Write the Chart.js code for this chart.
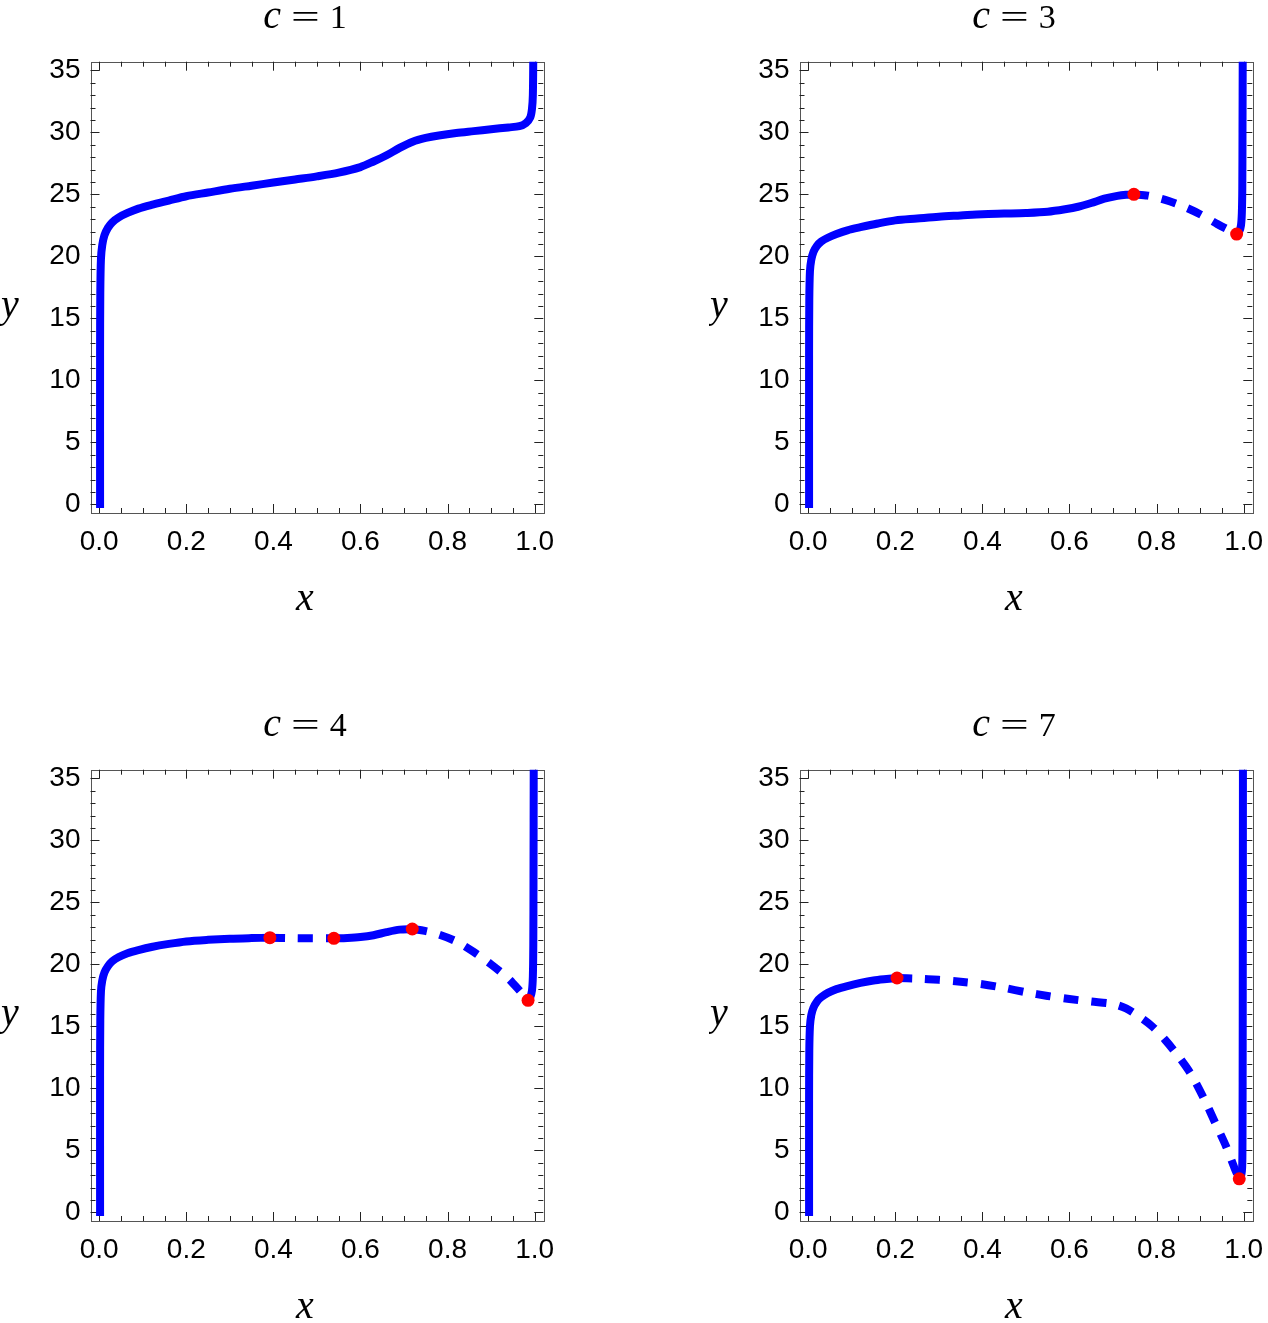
<!DOCTYPE html>
<html>
<head>
<meta charset="utf-8">
<script src="https://cdn.jsdelivr.net/npm/chart.js@4.4.1/dist/chart.umd.min.js"></script>
<style>
  html, body { margin: 0; padding: 0; background: #fff; }
  #wrap { position: relative; width: 1268px; height: 1323px; }
  canvas { position: absolute; }
</style>
</head>
<body>
<div id="wrap">
  <canvas id="p1" width="559" height="615" style="left:0;top:0"></canvas>
  <canvas id="p2" width="559" height="615" style="left:709px;top:0"></canvas>
  <canvas id="p3" width="559" height="615" style="left:0;top:708px"></canvas>
  <canvas id="p4" width="559" height="615" style="left:709px;top:708px"></canvas>
</div>
<script>
// ---------------------
// data
// ---------------------
var cValues = [1, 3, 4, 7];
var xTickValues = [0, 0.2, 0.4, 0.6, 0.8, 1.0];
var xTickLabels = ['0.0', '0.2', '0.4', '0.6', '0.8', '1.0'];
var yTickValues = [0, 5, 10, 15, 20, 25, 30, 35];

// c = 1
var c1X = [0.002, 0.002, 0.0025, 0.004, 0.007, 0.012, 0.02, 0.03, 0.045, 0.065, 0.09, 0.12, 0.16, 0.2, 0.25, 0.3, 0.35, 0.4, 0.45, 0.5, 0.55, 0.6, 0.63, 0.66, 0.69, 0.72, 0.75, 0.78, 0.82, 0.86, 0.9, 0.94, 0.965, 0.98, 0.99, 0.994, 0.996, 0.997];
var c1Y = [-0.3, 12, 17, 19.8, 20.9, 21.7, 22.3, 22.75, 23.15, 23.5, 23.85, 24.15, 24.5, 24.85, 25.15, 25.45, 25.7, 25.95, 26.2, 26.45, 26.75, 27.2, 27.65, 28.15, 28.75, 29.25, 29.55, 29.75, 29.95, 30.1, 30.25, 30.4, 30.5, 30.75, 31.2, 31.9, 33, 36];

// c = 3
var c3SolidAX = [0.002, 0.002, 0.0025, 0.004, 0.007, 0.012, 0.02, 0.03, 0.045, 0.065, 0.09, 0.12, 0.16, 0.2, 0.25, 0.3, 0.35, 0.4, 0.45, 0.5, 0.55, 0.59, 0.62, 0.65, 0.68, 0.71, 0.73, 0.748];
var c3SolidAY = [-0.3, 12, 16.5, 18.8, 19.7, 20.35, 20.85, 21.2, 21.5, 21.8, 22.1, 22.35, 22.65, 22.9, 23.05, 23.2, 23.3, 23.4, 23.45, 23.5, 23.6, 23.8, 24.0, 24.3, 24.65, 24.88, 24.97, 25.0];
var c3DashX = [0.748, 0.78, 0.82, 0.86, 0.9, 0.94, 0.984];
var c3DashY = [25.0, 24.9, 24.55, 24.05, 23.4, 22.6, 21.8];
var c3SolidBX = [0.984, 0.99, 0.994, 0.996, 0.997, 0.9975, 0.998];
var c3SolidBY = [21.8, 22.0, 22.5, 23.5, 25.5, 30, 36];
var c3DotX = [0.748, 0.984];
var c3DotY = [25.0, 21.8];

// c = 4
var c4SolidAX = [0.002, 0.002, 0.0025, 0.004, 0.007, 0.012, 0.02, 0.03, 0.045, 0.065, 0.09, 0.12, 0.16, 0.2, 0.25, 0.3, 0.35, 0.392];
var c4SolidAY = [-0.3, 11, 15.5, 17.8, 18.7, 19.35, 19.85, 20.25, 20.6, 20.9, 21.15, 21.4, 21.65, 21.85, 21.98, 22.07, 22.12, 22.15];
var c4DashAX = [0.392, 0.44, 0.49, 0.539];
var c4DashAY = [22.15, 22.12, 22.1, 22.1];
var c4SolidBX = [0.539, 0.57, 0.6, 0.63, 0.66, 0.69, 0.719];
var c4SolidBY = [22.1, 22.13, 22.2, 22.35, 22.6, 22.8, 22.85];
var c4DashBX = [0.719, 0.748, 0.78, 0.82, 0.86, 0.9, 0.94, 0.965, 0.985];
var c4DashBY = [22.85, 22.7, 22.4, 21.85, 21.0, 20.0, 18.85, 17.9, 17.1];
var c4SolidCX = [0.985, 0.99, 0.994, 0.996, 0.997, 0.9975, 0.998];
var c4SolidCY = [17.1, 17.35, 17.9, 19, 21.5, 27, 36];
var c4DotX = [0.392, 0.539, 0.719, 0.985];
var c4DotY = [22.15, 22.1, 22.85, 17.1];

// c = 7
var c7SolidAX = [0.002, 0.002, 0.0025, 0.004, 0.007, 0.012, 0.02, 0.03, 0.045, 0.065, 0.09, 0.12, 0.15, 0.18, 0.204];
var c7SolidAY = [-0.3, 9, 13, 15.0, 15.9, 16.5, 17.0, 17.35, 17.7, 18.0, 18.25, 18.5, 18.7, 18.82, 18.9];
var c7DashX = [0.204, 0.25, 0.3, 0.35, 0.4, 0.45, 0.5, 0.55, 0.6, 0.65, 0.7, 0.73, 0.76, 0.79, 0.82, 0.85, 0.88, 0.91, 0.935, 0.96, 0.98, 0.99];
var c7DashY = [18.9, 18.85, 18.75, 18.6, 18.4, 18.1, 17.75, 17.45, 17.2, 17.0, 16.8, 16.45, 15.8, 15.0, 13.9, 12.6, 11.1, 9.1, 7.2, 5.3, 3.5, 2.7];
var c7SolidBX = [0.99, 0.994, 0.996, 0.997, 0.9975, 0.998, 0.9985];
var c7SolidBY = [2.7, 2.95, 3.3, 4, 6, 15, 36];
var c7DotX = [0.204, 0.99];
var c7DotY = [18.9, 2.7];

// ---------------------
// helpers
// ---------------------
function toPoints(xs, ys) {
  return xs.map(function (x, i) { return {x: x, y: ys[i]}; });
}

function curve(xs, ys, dashed) {
  return {
    data: toPoints(xs, ys),
    showLine: true,
    borderColor: '#0000ff',
    borderWidth: 8,
    borderDash: dashed ? [15, 13] : [],
    borderCapStyle: 'butt',
    borderJoinStyle: 'round',
    pointRadius: 0,
    tension: 0.3,
    clip: 0,
    order: 1
  };
}

function dots(xs, ys) {
  return {
    data: toPoints(xs, ys),
    showLine: false,
    pointRadius: 6.5,
    pointBackgroundColor: '#ff0000',
    pointBorderWidth: 0,
    order: 0
  };
}

// frame with inward ticks on all four sides (Mathematica style)
var frameTicks = {
  id: 'frameTicks',
  beforeDatasetsDraw: function (chart) {
    var ctx = chart.ctx, a = chart.chartArea;
    var sx = chart.scales.x, sy = chart.scales.y;
    ctx.save();
    ctx.lineWidth = 1;
    ctx.strokeStyle = '#555';
    ctx.strokeRect(Math.round(a.left) + 0.5, Math.round(a.top) + 0.5,
      Math.round(a.right - a.left), Math.round(a.bottom - a.top));
    ctx.strokeStyle = '#222';
    ctx.beginPath();
    for (var i = 0; i <= 20; i++) {
      var px = Math.round(sx.getPixelForValue(i * 0.05)) + 0.5;
      var len = (i % 4 === 0) ? 9 : 5;
      ctx.moveTo(px, a.bottom); ctx.lineTo(px, a.bottom - len);
      ctx.moveTo(px, a.top); ctx.lineTo(px, a.top + len);
    }
    for (var j = 0; j <= 35; j++) {
      var py = Math.round(sy.getPixelForValue(j)) + 0.5;
      var l2 = (j % 5 === 0) ? 9 : 5;
      ctx.moveTo(a.left, py); ctx.lineTo(a.left + l2, py);
      ctx.moveTo(a.right, py); ctx.lineTo(a.right - l2, py);
    }
    ctx.stroke();
    ctx.restore();
  }
};

// plot label "c = n" and the axis names
var panelText = {
  id: 'panelText',
  afterDraw: function (chart, args, opts) {
    var ctx = chart.ctx;
    ctx.save();
    ctx.fillStyle = '#000';
    ctx.textBaseline = 'alphabetic';
    ctx.textAlign = 'left';
    var italic = 'italic 40px "Liberation Serif"';
    var upright = '34px "Liberation Serif"';
    var num = String(opts.c);
    var eqStretch = 1.5;
    ctx.font = italic; var wc = ctx.measureText('c').width;
    ctx.font = upright;
    var we = ctx.measureText('=').width * eqStretch;
    var wn = ctx.measureText(num).width;
    var gap = 10;
    var x0 = opts.cx - (wc + we + wn + 2 * gap) / 2;
    var base = 28;
    ctx.font = italic; ctx.fillText('c', x0, base);
    ctx.font = upright;
    ctx.save();
    ctx.translate(x0 + wc + gap, base);
    ctx.scale(eqStretch, 1);
    ctx.fillText('=', 0, 0);
    ctx.restore();
    ctx.fillText(num, x0 + wc + we + 2 * gap, base);

    ctx.font = italic;
    ctx.textAlign = 'center';
    ctx.fillText('x', opts.cx, 610);
    ctx.fillText('y', 10, 317);
    ctx.restore();
  }
};

function makePanel(canvasId, c, datasets) {
  return new Chart(document.getElementById(canvasId).getContext('2d'), {
    type: 'scatter',
    data: { datasets: datasets },
    plugins: [frameTicks, panelText],
    options: {
      responsive: false,
      animation: false,
      events: [],
      layout: { padding: { top: 61.7, right: 15.7, bottom: 0, left: 0 } },
      plugins: {
        legend: { display: false },
        tooltip: { enabled: false },
        panelText: { c: c, cx: 305 }
      },
      scales: {
        x: {
          type: 'linear',
          min: -0.02,
          max: 1.02,
          afterBuildTicks: function (s) { s.ticks = xTickValues.map(function (v) { return {value: v}; }); },
          afterFit: function (s) { s.height = 102; s.paddingLeft = 0; s.paddingRight = 0; },
          grid: { display: false, drawTicks: false },
          border: { display: false },
          ticks: {
            padding: 12,
            color: '#000',
            autoSkip: false,
            maxRotation: 0,
            font: { family: 'Liberation Sans', size: 28 },
            callback: function (v, i) { return xTickLabels[i]; }
          }
        },
        y: {
          type: 'linear',
          min: -0.7,
          max: 35.7,
          afterBuildTicks: function (s) { s.ticks = yTickValues.map(function (v) { return {value: v}; }); },
          afterFit: function (s) { s.width = 90.5; s.paddingTop = 0; s.paddingBottom = 0; },
          grid: { display: false, drawTicks: false },
          border: { display: false },
          ticks: {
            padding: 10,
            color: '#000',
            font: { family: 'Liberation Sans', size: 28 },
            callback: function (v) { return String(v); }
          }
        }
      }
    }
  });
}

makePanel('p1', cValues[0], [
  curve(c1X, c1Y, false)
]);

makePanel('p2', cValues[1], [
  dots(c3DotX, c3DotY),
  curve(c3SolidAX, c3SolidAY, false),
  curve(c3DashX, c3DashY, true),
  curve(c3SolidBX, c3SolidBY, false)
]);

makePanel('p3', cValues[2], [
  dots(c4DotX, c4DotY),
  curve(c4SolidAX, c4SolidAY, false),
  curve(c4DashAX, c4DashAY, true),
  curve(c4SolidBX, c4SolidBY, false),
  curve(c4DashBX, c4DashBY, true),
  curve(c4SolidCX, c4SolidCY, false)
]);

makePanel('p4', cValues[3], [
  dots(c7DotX, c7DotY),
  curve(c7SolidAX, c7SolidAY, false),
  curve(c7DashX, c7DashY, true),
  curve(c7SolidBX, c7SolidBY, false)
]);
</script>
</body>
</html>
